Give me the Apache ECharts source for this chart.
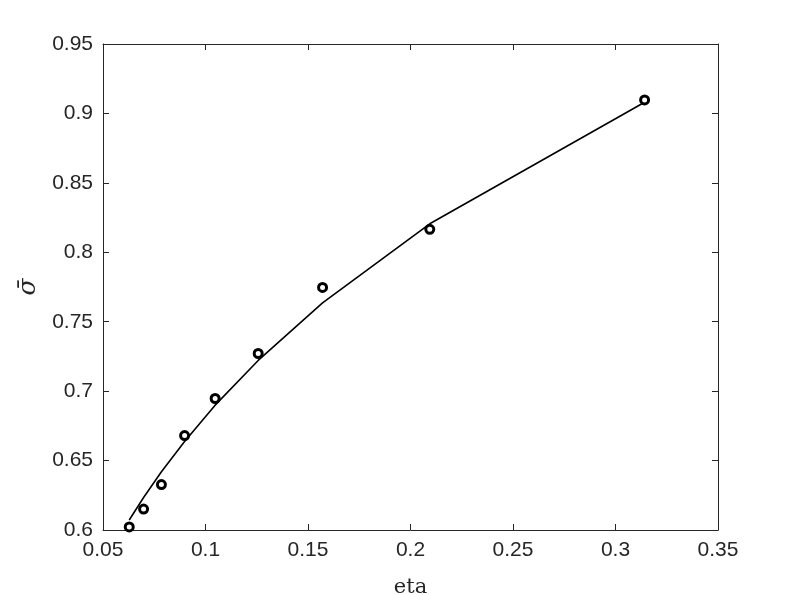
<!DOCTYPE html>
<html>
<head>
<meta charset="utf-8">
<script src="https://cdn.jsdelivr.net/npm/echarts@6/dist/echarts.min.js"></script>
<style>html,body{margin:0;padding:0;background:#fff}#c{width:793px;height:595px}</style>
</head>
<body>
<div id="c"></div>
<script>
const etaValues = [0.0628, 0.0698, 0.0785, 0.0898, 0.1047, 0.1257, 0.1571, 0.2094, 0.3142];
const sigmaMeasured = [0.6022, 0.6151, 0.6327, 0.6680, 0.6947, 0.7271, 0.7747, 0.8165, 0.9097];
const sigmaFit = [0.6072, 0.6234, 0.6420, 0.6638, 0.6899, 0.7221, 0.7635, 0.8205, 0.9080];
const xTicks = [0.05, 0.1, 0.15, 0.2, 0.25, 0.3, 0.35];
const yTicks = [0.6, 0.65, 0.7, 0.75, 0.8, 0.85, 0.9, 0.95];

const axisColor = '#262626';
const tickFont = "'Liberation Sans', Arial, Helvetica, sans-serif";
const chart = echarts.init(document.getElementById('c'), null, {renderer: 'canvas'});
const fmt = v => String(parseFloat(v.toFixed(2)));
const common = () => ({
  axisLine: {show: true, onZero: false, lineStyle: {color: axisColor, width: 1}},
  axisTick: {show: true, inside: true, length: 6, lineStyle: {color: axisColor}},
  splitLine: {show: false}
});
chart.setOption({
  animation: false,
  backgroundColor: '#fff',
  grid: {left: 103, right: 75, top: 44, bottom: 65, containLabel: false, outerBoundsMode: 'none'},
  xAxis: [
    Object.assign(common(), {
      type: 'value', min: xTicks[0], max: xTicks[xTicks.length - 1], interval: 0.05,
      position: 'bottom',
      name: 'eta', nameLocation: 'middle', nameGap: 47,
      nameTextStyle: {fontFamily: 'DejaVu Serif', fontSize: 21, color: axisColor},
      axisLabel: {formatter: fmt, fontFamily: tickFont, fontSize: 21, color: axisColor, margin: 10}
    }),
    Object.assign(common(), {
      type: 'value', min: xTicks[0], max: xTicks[xTicks.length - 1], interval: 0.05,
      position: 'top', axisLabel: {show: false}
    })
  ],
  yAxis: [
    Object.assign(common(), {
      type: 'value', min: yTicks[0], max: yTicks[yTicks.length - 1], interval: 0.05,
      position: 'left',
      name: 'σ\u0304', nameLocation: 'middle', nameGap: 60, nameRotate: 90,
      nameTextStyle: {fontFamily: 'DejaVu Serif', fontStyle: 'italic', fontSize: 25, color: axisColor},
      axisLabel: {formatter: fmt, fontFamily: tickFont, fontSize: 21, color: axisColor, margin: 10}
    }),
    Object.assign(common(), {
      type: 'value', min: yTicks[0], max: yTicks[yTicks.length - 1], interval: 0.05,
      position: 'right', axisLabel: {show: false}
    })
  ],
  series: [
    {
      type: 'line',
      data: etaValues.map((x, i) => [x, sigmaFit[i]]),
      showSymbol: false, symbol: 'none',
      lineStyle: {color: '#000', width: 1.6},
      z: 2
    },
    {
      type: 'scatter',
      data: etaValues.map((x, i) => [x, sigmaMeasured[i]]),
      symbol: 'circle', symbolSize: 8,
      itemStyle: {color: '#fff', borderColor: '#000', borderWidth: 3, opacity: 1},
      z: 3
    }
  ]
});
</script>
</body>
</html>
